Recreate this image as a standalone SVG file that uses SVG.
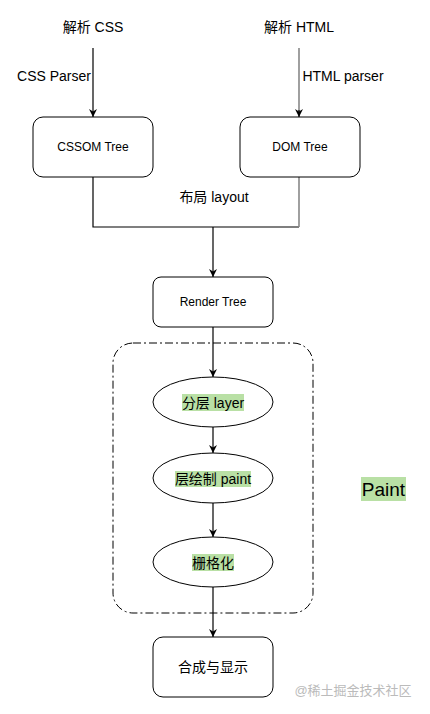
<svg xmlns="http://www.w3.org/2000/svg" width="430" height="714" viewBox="0 0 430 714">
<style>
text{font-family:"Liberation Sans","Noto Sans CJK SC",Arial,sans-serif;fill:#000;text-anchor:middle;dominant-baseline:central}
.box{fill:#fff;stroke:#000;stroke-width:1}
.ln{fill:none;stroke:#000;stroke-width:1.2}
.grey{stroke:#888888;stroke-width:1.6}
.hl{fill:#b9e0a5}
.s14{font-size:14px}
.s12{font-size:12px}
</style>
<defs>
<marker id="ah" viewBox="0 0 10 10" refX="10" refY="5" markerWidth="8" markerHeight="8" markerUnits="userSpaceOnUse" orient="auto"><path d="M0,0 L10,5 L0,10 L3,5 z" fill="#000"/></marker>
</defs>
<g id="paint-group">
<rect x="113" y="343" width="200" height="270" rx="20" fill="none" stroke="#000" stroke-width="1" stroke-dasharray="8 3 2 3"/>
</g>
<g id="connectors">
<line class="ln" x1="93" y1="48" x2="93" y2="117" marker-end="url(#ah)"/>
<line class="ln grey" x1="299" y1="48" x2="299" y2="111"/>
<line class="ln" x1="299" y1="110" x2="299" y2="117" marker-end="url(#ah)"/>
<polyline class="ln" points="93,177 93,227 299,227"/>
<line class="ln grey" x1="299" y1="177" x2="299" y2="227"/>
<line class="ln" x1="213" y1="227" x2="213" y2="277" marker-end="url(#ah)"/>
<line class="ln" x1="213" y1="327" x2="213" y2="377" marker-end="url(#ah)"/>
<line class="ln" x1="213" y1="427" x2="213" y2="453" marker-end="url(#ah)"/>
<line class="ln" x1="213" y1="503" x2="213" y2="537" marker-end="url(#ah)"/>
<line class="ln" x1="213" y1="587" x2="213" y2="637" marker-end="url(#ah)"/>
<text class="s14" x="54" y="76">CSS Parser</text>
<text class="s14" x="343" y="76">HTML parser</text>
<text class="s14" x="214" y="197">布局 layout</text>
</g>
<g id="parse-css"><text class="s14" x="93" y="27">解析 CSS</text></g>
<g id="parse-html"><text class="s14" x="299" y="27">解析 HTML</text></g>
<g id="cssom">
<rect class="box" x="33" y="117" width="120" height="60" rx="10"/>
<text class="s12" x="93" y="147">CSSOM Tree</text>
</g>
<g id="dom">
<rect class="box" x="240" y="117" width="120" height="60" rx="10"/>
<text class="s12" x="300" y="147">DOM Tree</text>
</g>
<g id="render-tree">
<rect class="box" x="153" y="277" width="120" height="50" rx="8"/>
<text class="s12" x="213" y="302">Render Tree</text>
</g>
<g id="layer">
<ellipse class="box" cx="213" cy="402" rx="60" ry="25"/>
<rect class="hl" x="182" y="394" width="62" height="17"/>
<text class="s14" x="213" y="402.5">分层 layer</text>
</g>
<g id="paint-node">
<ellipse class="box" cx="213" cy="478" rx="60" ry="25"/>
<rect class="hl" x="175" y="471" width="76" height="16"/>
<text class="s14" x="213" y="479">层绘制 paint</text>
</g>
<g id="raster">
<ellipse class="box" cx="213" cy="562" rx="60" ry="25"/>
<rect class="hl" x="192" y="554" width="42" height="17"/>
<text class="s14" x="213" y="562.5">栅格化</text>
</g>
<g id="composite">
<rect class="box" x="153" y="637" width="120" height="60" rx="10"/>
<text class="s14" x="213" y="667">合成与显示</text>
</g>
<g id="paint-label">
<rect class="hl" x="361" y="477" width="45" height="24"/>
<text x="383.5" y="489" style="font-size:19px">Paint</text>
</g>
<g id="watermark">
<text x="353" y="690" style="font-size:13px;fill:#bbbbbb">@稀土掘金技术社区</text>
</g>
</svg>
